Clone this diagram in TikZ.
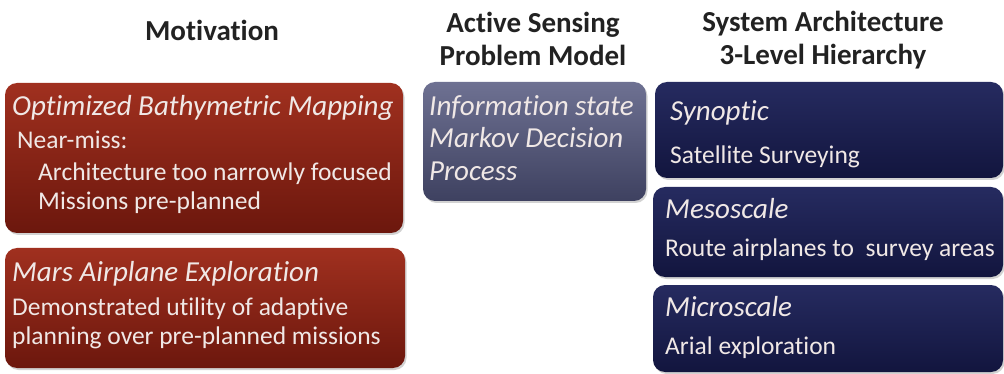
\documentclass[tikz,border=0pt]{standalone}
\usepackage{fontspec}
\setmainfont{Carlito}[Ligatures=NoCommon]
\usetikzlibrary{shadows}
\definecolor{redtop}{HTML}{A0301F}
\definecolor{redbot}{HTML}{6C170D}
\definecolor{slatetop}{HTML}{6E7192}
\definecolor{slatebot}{HTML}{3E4160}
\definecolor{navytop}{HTML}{262B60}
\definecolor{navybot}{HTML}{12153E}
\definecolor{titlecol}{HTML}{222222}
\definecolor{boxtext}{HTML}{F0E8E6}
\tikzset{
  x=1pt, y=-1pt,
  panel/.style={rounded corners=12pt, inner sep=0pt, outer sep=0pt,
    drop shadow={shadow xshift=1.5pt, shadow yshift=-2pt, opacity=0.35}},
  redpanel/.style={panel, top color=redtop, bottom color=redbot},
  slatepanel/.style={panel, top color=slatetop, bottom color=slatebot},
  navypanel/.style={panel, top color=navytop, bottom color=navybot},
  heading/.style={anchor=base, inner sep=0pt, text=titlecol,
    font=\fontsize{29}{34}\selectfont\bfseries},
  boxhead/.style={anchor=base west, inner sep=0pt, text=boxtext,
    font=\fontsize{29}{34}\selectfont\itshape},
  boxbody/.style={anchor=base west, inner sep=0pt, text=boxtext,
    font=\fontsize{25.5}{30}\selectfont},
}
\begin{document}
\begin{tikzpicture}
\useasboundingbox (0,0) rectangle (1004,374);
\fill[white] (0,0) rectangle (1004,374);

% column headings
\node[heading] (hmot) at (212,41) {Motivation};
\node[heading] (hasp1) at (533,33) {Active Sensing};
\node[heading] (hasp2) at (533,66) {Problem Model};
\node[heading] (hsys1) at (823,32) {System Architecture};
\node[heading] (hsys2) at (823,65) {3-Level Hierarchy};

% motivation panels
\path[redpanel] (5,83) rectangle (403,233) coordinate (bathybox);
\path[redpanel] (5,248) rectangle (405,368) coordinate (marsbox);
\node[boxhead] (bathy) at (12,116) {Optimized Bathymetric Mapping};
\node[boxbody] (near) at (17,149) {Near-miss:};
\node[boxbody] (arch) at (38,181) {Architecture too narrowly focused};
\node[boxbody] (preplan) at (38,210) {Missions pre-planned};
\node[boxhead] (mars) at (12,281) {Mars Airplane Exploration};
\node[boxbody] (demo) at (12,315) {Demonstrated utility of adaptive};
\node[boxbody] (plan) at (12,344) {planning over pre-planned missions};

% problem model panel
\path[slatepanel] (423,82) rectangle (646,201) coordinate (mdpbox);
\node[boxhead] (info) at (429,116) {Information state};
\node[boxhead] (markov) at (429,148) {Markov Decision};
\node[boxhead] (proc) at (429,181) {Process};

% hierarchy panels
\path[navypanel] (655,82) rectangle (1003,178) coordinate (synbox);
\path[navypanel] (653,187) rectangle (1003,277) coordinate (mesobox);
\path[navypanel] (653,285) rectangle (1003,372) coordinate (microbox);
\node[boxhead] (syn) at (670,121) {Synoptic};
\node[boxbody] (sat) at (670,164) {Satellite Surveying};
\node[boxhead] (meso) at (665,219) {Mesoscale};
\node[boxbody] (route) at (665,256) {Route airplanes to\ \ survey areas};
\node[boxhead] (micro) at (665,316) {Microscale};
\node[boxbody] (arial) at (665,354) {Arial exploration};
\end{tikzpicture}
\end{document}
